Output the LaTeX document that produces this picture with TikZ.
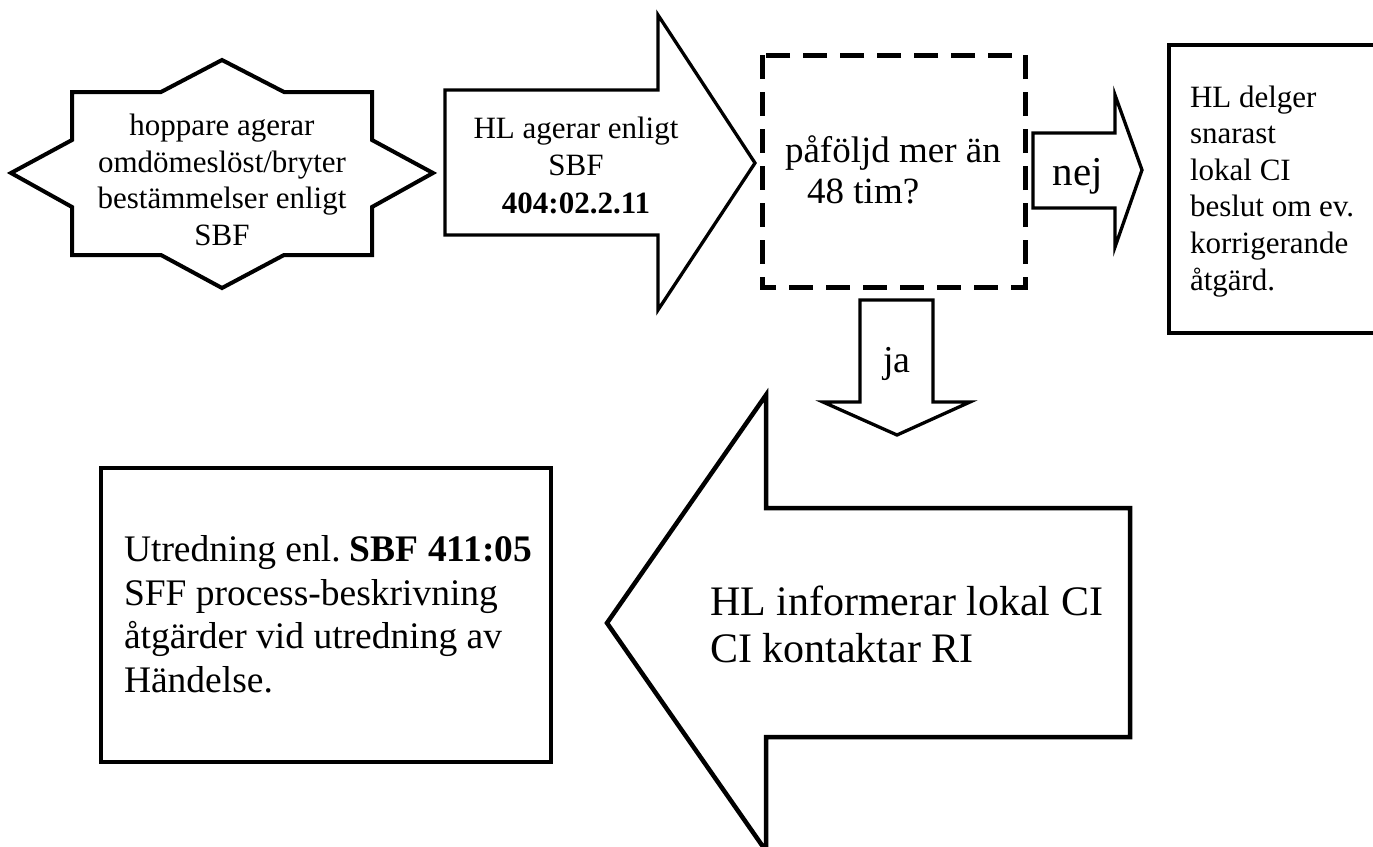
\documentclass[tikz,border=0pt]{standalone}
\usepackage{fontspec}
\setmainfont{Liberation Serif}
\usetikzlibrary{positioning, calc}

\newcommand{\setfs}[2]{\fontsize{#1pt}{#2pt}\selectfont}
\frenchspacing

\begin{document}
\begin{tikzpicture}[
    x=1pt, y=-1pt,
    outline/.style={draw=black, line width=4pt, fill=white, line join=miter}, % solid shapes
    thinline/.style={outline, line width=3.3pt}, % smaller block arrows
    dashbox/.style={draw=black, line width=5pt, dash pattern=on 24pt off 13pt}, % the question box
    txt/.style={inner sep=0pt, outer sep=0pt}
]

    % === Page ===
    \useasboundingbox (0,0) rectangle (1373,846);
    \clip (0,0) rectangle (1373,846);

    % === Star: start event ===
    \draw[outline] (72,92) -- (161,92) -- (222,60) -- (284,92) -- (372,92)
        -- (372,140) -- (433,173) -- (372,207) -- (372,255)
        -- (284,255) -- (222,288) -- (161,255) -- (72,255)
        -- (72,207) -- (11,173) -- (72,140) -- cycle;
    \node[txt, anchor=base, align=center, font=\setfs{31}{36.5}] (event) at (222,245)
        {hoppare agerar\\omdömeslöst/bryter\\bestämmelser enligt\\SBF};

    % === Arrow: HL agerar ===
    \coordinate (actTail) at (445,90);
    \draw[thinline] (actTail) -- (658,90) -- (658,15) -- (755,163)
        -- (658,310) -- (658,235) -- (445,235) -- cycle;
    \node[txt, anchor=base, align=center, font=\setfs{31}{37.5}] (act) at (576,213)
        {HL agerar enligt\\SBF\\\textbf{404:02.2.11}};

    % === Question box ===
    \draw[dashbox] (762,55) rectangle (1025,287);
    \node[txt, anchor=base west, align=left, font=\setfs{37}{41}] (question) at (785,203)
        {påföljd mer än\\\hspace*{0.6em}48 tim?};

    % === Arrow: nej ===
    \draw[thinline] (1033,133) -- (1115,133) -- (1115,95) -- (1142,170)
        -- (1115,247) -- (1115,208) -- (1033,208) -- cycle;
    \node[txt, anchor=base, font=\setfs{41}{45}] (no) at (1078,185) {nej};

    % === Box: local decision ===
    \draw[outline] (1169,45) rectangle (1390,333);
    \node[txt, anchor=base west, align=left, font=\setfs{31}{36.6}] (decision) at (1190,290)
        {HL delger\\snarast\\lokal CI\\beslut om ev.\\korrigerande\\åtgärd.};

    % === Arrow: ja ===
    \draw[thinline] (860,300) -- (933,300) -- (933,402) -- (970,402)
        -- (897,435) -- (823,402) -- (860,402) -- cycle;
    \node[txt, anchor=base, font=\setfs{38}{42}] (yes) at (897,372) {ja};

    % === Big arrow: inform CI ===
    \draw[outline, line width=4.5pt] (607,623) -- (766,395) -- (766,508) -- (1130,508)
        -- (1130,737) -- (766,737) -- (766,851) -- cycle;
    \node[txt, anchor=base west, align=left, font=\setfs{42}{47}] (inform) at (710,662)
        {HL informerar lokal CI\\CI kontaktar RI};

    % === Box: investigation ===
    \draw[outline] (101,468) rectangle (551,762);
    \node[txt, anchor=base west, align=left, font=\setfs{37.5}{43.5}] (investigation) at (124,692)
        {Utredning enl. \textbf{SBF 411:05}\\SFF process-beskrivning\\åtgärder vid utredning av\\Händelse.};

\end{tikzpicture}
\end{document}
